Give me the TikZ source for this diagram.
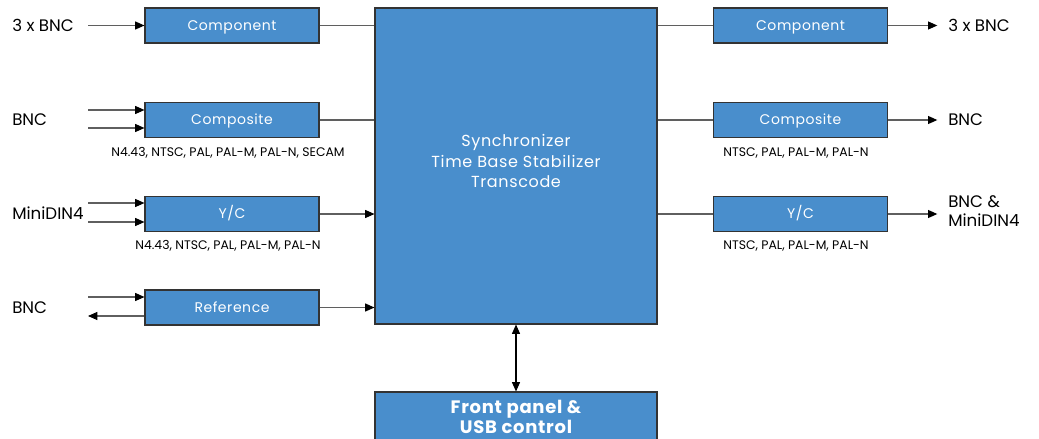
\documentclass[tikz,border=0pt]{standalone}
\usepackage{fontspec}
\setmainfont{Poppins}
\newfontfamily\wide[LetterSpace=4]{Poppins}
\usetikzlibrary{arrows.meta}
\definecolor{boxblue}{RGB}{73,142,204}
\definecolor{linegray}{RGB}{95,95,95}

\begin{document}
\begin{tikzpicture}[x=0.75pt,y=-0.75pt,
  blk/.style={draw=black!80,line width=0.8pt,fill=boxblue,text=white,inner sep=0pt,font=\wide\fontsize{10.5}{13}\selectfont},
  sblk/.style={blk,minimum width=130.5pt,minimum height=26.25pt,text height=7.4pt,text depth=0pt},
  lnk/.style={draw=linegray,line width=0.8pt},
  arr/.style={lnk,-{Triangle[length=7pt,width=6pt,color=black]}},
  port/.style={font=\fontsize{12.5}{14}\selectfont,inner sep=0pt,anchor=west},
  fmt/.style={font=\fontsize{9.3}{11}\selectfont,inner sep=0pt}]
\useasboundingbox (0,0) rectangle (1039,439);
\clip (0,0) rectangle (1039,439);
\node[sblk] (compL) at (232,25.5) {Component};
\node[sblk] (compoL) at (232,120) {Composite};
\node[sblk] (ycL) at (232,214) {Y/C};
\node[sblk] (refL) at (232,307.5) {Reference};
\node[sblk] (compR) at (800.5,25.5) {Component};
\node[sblk] (compoR) at (800.5,120) {Composite};
\node[sblk] (ycR) at (800.5,214) {Y/C};
\node[blk,minimum width=211.5pt,minimum height=237pt] (core) at (516,166) {};
\node[text=white,align=center,inner sep=0pt,font=\wide\fontsize{12}{15.4}\selectfont] (coretxt) at (516,161) {Synchronizer\\Time Base Stabilizer\\Transcode};
\node[blk,minimum width=211.5pt,minimum height=42pt] (front) at (516,420) {};
\node[text=white,align=center,inner sep=0pt,font=\wide\bfseries\fontsize{13.5}{15}\selectfont] (fronttxt) at (516,417) {Front panel \&\\USB control};
\node[port] (pA) at (12,25) {3 x BNC};
\node[port] (pB) at (12,120) {BNC};
\node[port] (pC) at (12,213) {MiniDIN4};
\node[port] (pD) at (12,308) {BNC};
\node[port] (qA) at (948,25) {3 x BNC};
\node[port] (qB) at (948,120) {BNC};
\node[port,align=left] (qC) at (948,211) {BNC \&\\MiniDIN4};
\node[fmt] (fmtB) at (228,153) {N4.43, NTSC, PAL, PAL-M, PAL-N, SECAM};
\node[fmt] (fmtC) at (228,246) {N4.43, NTSC, PAL, PAL-M, PAL-N};
\node[fmt] (fmtBR) at (796,153) {NTSC, PAL, PAL-M, PAL-N};
\node[fmt] (fmtCR) at (796,246) {NTSC, PAL, PAL-M, PAL-N};
\coordinate (inA) at (88,25.5);
\coordinate (inB1) at (88,110);
\coordinate (inB2) at (88,128);
\coordinate (inC1) at (88,203);
\coordinate (inC2) at (88,222);
\coordinate (inD) at (88,297);
\coordinate (outD) at (88,316);
\draw[arr] (inA) -- (compL.west);
\draw[arr] (inB1) -- (inB1 -| compoL.west);
\draw[arr] (inB2) -- (inB2 -| compoL.west);
\draw[arr] (inC1) -- (inC1 -| ycL.west);
\draw[arr] (inC2) -- (inC2 -| ycL.west);
\draw[arr] (inD) -- (inD -| refL.west);
\draw[arr] (refL.west |- outD) -- (outD);
\draw[lnk] (compL.east) -- (compL.east -| core.west);
\draw[lnk] (compoL.east) -- (compoL.east -| core.west);
\draw[arr] (ycL.east) -- (ycL.east -| core.west);
\draw[arr] (refL.east) -- (refL.east -| core.west);
\draw[lnk] (core.east |- compR.west) -- (compR.west);
\draw[lnk] (core.east |- compoR.west) -- (compoR.west);
\draw[lnk] (core.east |- ycR.west) -- (ycR.west);
\draw[arr,shorten >=8pt] (compR.east) -- (compR.east -| qA.west);
\draw[arr,shorten >=8pt] (compoR.east) -- (compoR.east -| qB.west);
\draw[arr,shorten >=8pt] (ycR.east) -- (ycR.east -| qC.west);
\draw[lnk,draw=black,{Triangle[length=7pt,width=6pt]}-{Triangle[length=7pt,width=6pt]}] (core) -- (front);
\end{tikzpicture}
\end{document}
